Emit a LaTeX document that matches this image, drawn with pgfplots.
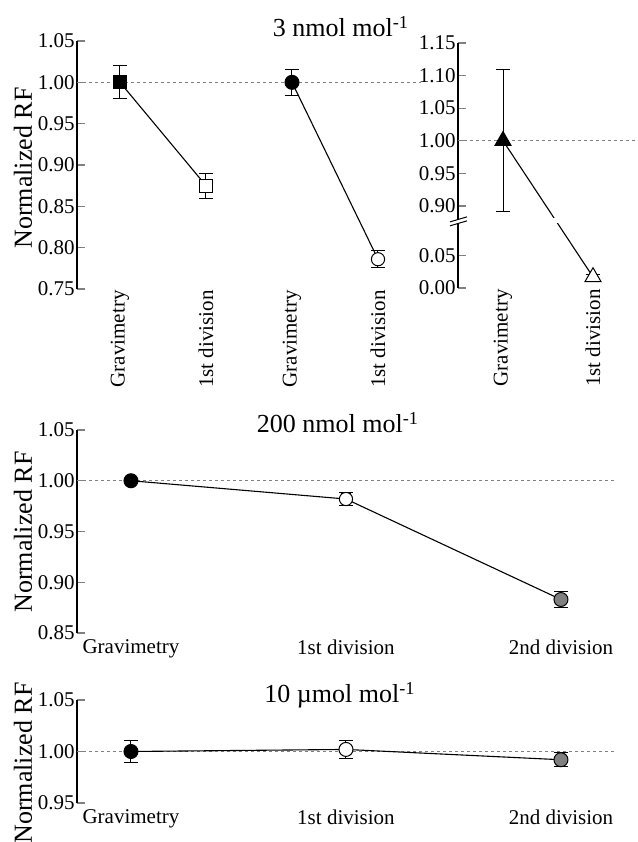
\documentclass[border=0pt]{standalone}
\usepackage{fontspec}
\setmainfont{Liberation Serif}
\usepackage{pgfplots}
\pgfplotsset{compat=1.18}

\pgfplotsset{
  rf/.style={
    scale only axis,
    anchor=south west,
    axis lines*=left,
    axis line style={line width=0.65pt},
    x axis line style={draw=none},
    xtick style={draw=none},
    ytick style={line width=0.65pt},
    tick align=inside,
    major tick length=4pt,
    ytick pos=left,
    clip=false,
    tick label style={font=\fontsize{10.5}{12}\selectfont},
    yticklabel style={inner sep=1pt},
    /pgf/number format/assume math mode=true,
    /pgf/number format/fixed,
    /pgf/number format/fixed zerofill,
    /pgf/number format/precision=2,
  },
  ref/.style={gray, line width=0.4pt, dash pattern=on 1.5pt off 1.5pt, forget plot},
  link/.style={black, line width=0.55pt, mark=none, forget plot},
  pt/.style={only marks, line width=0.5pt, forget plot,
    error bars/y dir=both, error bars/y explicit,
    error bars/error bar style={black, line width=0.5pt},
    error bars/error mark options={rotate=90, black, line width=0.5pt, mark size=3.3pt}},
  % error bar alone, drawn over an open marker
  bar/.style={draw=none, mark=none, forget plot,
    error bars/y dir=both, error bars/y explicit,
    error bars/error bar style={draw=black, line width=0.4pt},
    error bars/error mark options={rotate=90, draw=black, line width=0.4pt, mark size=#1}},
}

\begin{document}
\begin{tikzpicture}
\path[use as bounding box] (0,0) rectangle (319pt,421pt);

% 3 nmol/mol, first two gases (shared y axis)
\begin{axis}[rf, at={(38.5pt,276.5pt)}, width=172pt, height=124pt,
  xmin=-0.5, xmax=3.5, ymin=0.75, ymax=1.05,
  ytick={0.75,0.80,0.85,0.90,0.95,1.00,1.05},
  xtick={0,1,2,3},
  xticklabels={Gravimetry,1st division,Gravimetry,1st division},
  xticklabel style={rotate=90, anchor=east, inner sep=0.5pt}]
\addplot[ref] coordinates {(-0.5,1) (3.5,1)};
\addplot[link] coordinates {(0,1.000) (1,0.875)};
\addplot[link] coordinates {(2,1.000) (3,0.786)};
\addplot[pt, mark=square*, mark size=3.3pt, mark options={draw=black, fill=black}] coordinates {(0,1.000) +- (0,0.020)};
\addplot[pt, mark=square*, mark size=3.3pt, mark options={draw=black, fill=white}] coordinates {(1,0.875) +- (0,0.015)};
\addplot[pt, mark=*, mark size=3.5pt, mark options={draw=black, fill=black}] coordinates {(2,1.000) +- (0,0.016)};
\addplot[pt, mark=*, mark size=3.3pt, mark options={draw=black, fill=white}] coordinates {(3,0.786) +- (0,0.010)};
\end{axis}

% 3 nmol/mol, third gas, broken y axis
% plotted value t: t = value for 0.00-0.05, t = value - 0.774 above the break
\begin{axis}[rf, at={(229pt,277pt)}, width=90pt, height=122.5pt,
  xmin=-0.5, xmax=1.5, ymin=0, ymax=0.376,
  ytick={0,0.05,0.126,0.176,0.226,0.276,0.326,0.376},
  yticklabels={0.00,0.05,0.90,0.95,1.00,1.05,1.10,1.15},
  xtick={0,1},
  xticklabels={Gravimetry,1st division},
  xticklabel style={rotate=90, anchor=east, inner sep=0.5pt}]
\addplot[ref] coordinates {(-0.5,0.226) (1.5,0.226)};
\addplot[link] coordinates {(0,0.226) (1,0.017)};
\addplot[pt, mark=triangle*, mark size=4.6pt, mark options={draw=black, fill=black}] coordinates {(0,0.226) +- (0,0.109)};
\addplot[pt, mark=triangle*, mark size=4.6pt, mark options={draw=black, fill=white}] coordinates {(1,0.017) +- (0,0.004)};
\addplot[bar=2.6pt] coordinates {(1,0.017) +- (0,0.004)};
\coordinate (brk) at (axis cs:-0.5,0.1015);
\coordinate (gapA) at (axis cs:0.5,0.099);
\coordinate (gapB) at (axis cs:0.68,0.108);
\end{axis}
\fill[white] (gapA) rectangle (gapB);
\fill[white] (brk) ++(-4pt,-2pt) -- ++(8.5pt,2.5pt) -- ++(0,2pt) -- ++(-8.5pt,-2.5pt) -- cycle;
\draw[line width=0.5pt] (brk) ++(-4pt,-2pt) -- ++(8.5pt,2.5pt);
\draw[line width=0.5pt] (brk) ++(-4pt,0pt) -- ++(8.5pt,2.5pt);

% 200 nmol/mol
\begin{axis}[rf, at={(38.5pt,104.5pt)}, width=269.5pt, height=101.5pt,
  xmin=-0.251, xmax=2.256, ymin=0.85, ymax=1.05,
  ytick={0.85,0.90,0.95,1.00,1.05},
  xtick={0,1,2},
  xticklabels={Gravimetry,1st division,2nd division}]
\addplot[ref] coordinates {(-0.251,1) (2.256,1)};
\addplot[link] coordinates {(0,1.000) (1,0.982) (2,0.883)};
\addplot[pt, mark=*, mark size=3.5pt, mark options={draw=black, fill=black}] coordinates {(0,1.000) +- (0,0.002)};
\addplot[pt, mark=*, mark size=3.3pt, mark options={draw=black, fill=white}] coordinates {(1,0.982) +- (0,0.006)};
\addplot[bar=2.6pt] coordinates {(1,0.982) +- (0,0.006)};
\addplot[pt, mark=*, mark size=3.5pt, mark options={draw=black, fill=gray}] coordinates {(2,0.883) +- (0,0.0075)};
\end{axis}

% 10 umol/mol
\begin{axis}[rf, at={(38.5pt,19.5pt)}, width=269.5pt, height=51.5pt,
  xmin=-0.251, xmax=2.256, ymin=0.95, ymax=1.05,
  ytick={0.95,1.00,1.05},
  xtick={0,1,2},
  xticklabels={Gravimetry,1st division,2nd division}]
\addplot[ref] coordinates {(-0.251,1) (2.256,1)};
\addplot[link] coordinates {(0,1.000) (1,1.002) (2,0.992)};
\addplot[pt, mark=*, mark size=3.5pt, mark options={draw=black, fill=black}] coordinates {(0,1.000) +- (0,0.011)};
\addplot[pt, mark=*, mark size=3.5pt, mark options={draw=black, fill=white}] coordinates {(1,1.002) +- (0,0.009)};
\addplot[pt, mark=*, mark size=3.5pt, mark options={draw=black, fill=gray}] coordinates {(2,0.992) +- (0,0.007)};
\end{axis}

% titles and y labels, in pixel units of the reference (origin top left)
\begin{scope}[x=0.5pt, y=-0.5pt, shift={(0pt,421pt)}]
\node[font=\fontsize{13}{15}\selectfont, anchor=base] at (341,37) {3 nmol mol\textsuperscript{-1}};
\node[font=\fontsize{13}{15}\selectfont, anchor=base] at (338,433) {200 nmol mol\textsuperscript{-1}};
\node[font=\fontsize{13}{15}\selectfont, anchor=base] at (340,703) {10 µmol mol\textsuperscript{-1}};
\node[font=\fontsize{13}{15}\selectfont, rotate=90] at (23,168) {Normalized RF};
\node[font=\fontsize{13}{15}\selectfont, rotate=90] at (23,532) {Normalized RF};
\node[font=\fontsize{13}{15}\selectfont, rotate=90] at (23,763) {Normalized RF};
\end{scope}
\end{tikzpicture}
\end{document}
